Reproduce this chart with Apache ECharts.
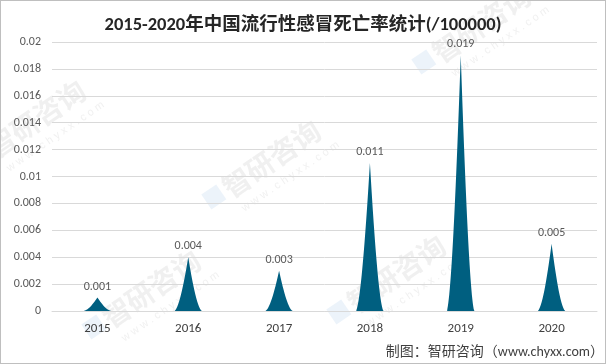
<!DOCTYPE html>
<html><head><meta charset="utf-8">
<script src="https://cdn.jsdelivr.net/npm/echarts@6/dist/echarts.min.js"></script>
<style>html,body{margin:0;padding:0;background:#fff}#c{width:606px;height:364px;box-sizing:border-box;border:1px solid #bfbfbf}</style>
</head><body><div id="c"></div>
<script>
var categories = ['2015','2016','2017','2018','2019','2020'];
var rates = [0.001, 0.004, 0.003, 0.011, 0.019, 0.005];
var yTicks = {min: 0, max: 0.02, interval: 0.002};
var titleText = '2015-2020年中国流行性感冒死亡率统计(/100000)';
var sourceText = '制图：智研咨询（www.chyxx.com）';
var watermarkText = '智研咨询';
var watermarkUrl = 'w w w . c h y x x . c o m';

var chart = echarts.init(document.getElementById('c'), null, {renderer: 'canvas'});
var font = 'Calibri, Carlito, "Noto Sans CJK SC", "Microsoft YaHei", sans-serif';
var wmSpots = [[-20, 175], [215, 215], [425, 80], [95, 345], [340, 330]];
var graphics = wmSpots.map(function (p) {
  return {type: 'group', x: p[0], y: p[1], rotation: 0.6, silent: true, z: -1,
    children: [
      {type: 'text', x: 22, y: -30, style: {text: watermarkText, fill: 'rgba(200,200,200,0.28)', font: 'bold 28px "Noto Sans CJK SC", sans-serif'}},
      {type: 'text', x: 26, y: 4, style: {text: watermarkUrl, fill: 'rgba(200,200,200,0.28)', font: '11px sans-serif'}},
      {type: 'rect', shape: {x: 0, y: -26, width: 18, height: 18}, style: {fill: 'rgba(120,170,220,0.14)'}}
    ]};
});
graphics.push({type: 'text', right: 1, bottom: 4, z: 10,
  style: {text: sourceText, fill: '#404040', font: '14px ' + font}});

chart.setOption({
  animation: false,
  textStyle: {fontFamily: font},
  title: {text: titleText, left: 'center', top: 10,
    textStyle: {fontSize: 18.5, fontWeight: 'bold', color: '#262626', fontFamily: font}},
  grid: {left: 51, right: 8, top: 41, bottom: 52, containLabel: false},
  xAxis: {type: 'category', data: categories,
    axisLine: {show: true, lineStyle: {color: '#d9d9d9'}}, axisTick: {show: false},
    axisLabel: {color: '#404040', fontSize: 13, margin: 11}},
  yAxis: {type: 'value', min: yTicks.min, max: yTicks.max, interval: yTicks.interval,
    axisLine: {show: false}, axisTick: {show: false},
    splitLine: {lineStyle: {color: '#d9d9d9'}},
    axisLabel: {color: '#595959', fontSize: 12, margin: 11}},
  series: [{
    type: 'pictorialBar', data: rates, z: 5,
    symbol: 'path://M0,10 L10,10 C8.2,9.3 6.3,4 5,0 C3.7,4 1.8,9.3 0,10 z',
    barCategoryGap: '70%',
    itemStyle: {color: '#005f80'},
    label: {show: true, position: 'top', distance: 5, color: '#595959', fontSize: 12}
  }],
  graphic: graphics
});
</script></body></html>
